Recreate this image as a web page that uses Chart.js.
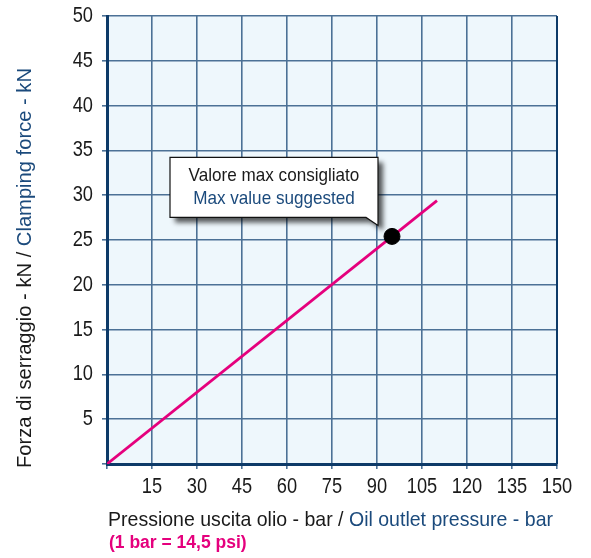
<!DOCTYPE html>
<html>
<head>
<meta charset="utf-8">
<script src="https://cdn.jsdelivr.net/npm/chart.js@4/dist/chart.umd.min.js"></script>
<style>
  html, body { margin: 0; padding: 0; background: #fff; }
  #wrap { width: 591px; height: 558px; position: relative; }
</style>
</head>
<body>
<div id="wrap"><canvas id="clampChart" width="591" height="558"></canvas></div>
<script>
// Dati
const pressureLine = [0, 110];      // bar
const forceLine = [0, 29.4];        // kN
const maxPressure = [95];
const maxForce = [25.4];
const xTicks = [0, 15, 30, 45, 60, 75, 90, 105, 120, 135, 150];
const yTicks = [0, 5, 10, 15, 20, 25, 30, 35, 40, 45, 50];

const FONT = "'Liberation Sans', Arial, sans-serif";
const navy = "#0d3a68";
const blueText = "#1b4a7c";
const gridColor = "#4c7196";
const magenta = "#e5007d";
const ink = "#1a1a1a";

// testo "stretto" (il font originale e' condensato)
function narrowText(ctx, text, x, y, sx, align) {
  ctx.save();
  ctx.translate(x, y);
  ctx.scale(sx, 1);
  ctx.textAlign = align || "left";
  ctx.fillText(text, 0, 0);
  ctx.restore();
}

// due pezzi di testo di colore diverso, stretti per stare in "width"
function twoTone(ctx, a, b, x, y, width) {
  const wa = ctx.measureText(a).width;
  const wb = ctx.measureText(b).width;
  const sx = width / (wa + wb);
  ctx.fillStyle = ink;
  narrowText(ctx, a, x, y, sx);
  ctx.fillStyle = blueText;
  narrowText(ctx, b, x + wa * sx, y, sx);
}

// Sfondo area grafico, etichette, titoli e fumetto
const plotBg = {
  id: "plotBg",
  beforeDraw(chart) {
    const { ctx, chartArea: a } = chart;
    ctx.save();
    ctx.fillStyle = "#eef7fc";
    ctx.fillRect(a.left, a.top, a.right - a.left, a.bottom - a.top);
    ctx.restore();
  },
  afterDraw(chart) {
    const { ctx, chartArea: a } = chart;
    const xs = chart.scales.x, ys = chart.scales.y;
    ctx.save();
    // bordo destro
    ctx.strokeStyle = navy;
    ctx.lineWidth = 2;
    ctx.beginPath();
    ctx.moveTo(a.right, a.top);
    ctx.lineTo(a.right, a.bottom);
    ctx.stroke();

    // etichette assi
    ctx.font = "22px " + FONT;
    ctx.fillStyle = ink;
    ctx.textBaseline = "middle";
    xTicks.forEach((v) => {
      if (v === 0) return;
      narrowText(ctx, String(v), xs.getPixelForValue(v), 487, 0.83, "center");
    });
    yTicks.forEach((v) => {
      if (v === 0) return;
      narrowText(ctx, String(v), 93, ys.getPixelForValue(v), 0.83, "right");
    });

    // titolo asse x
    ctx.font = "21px " + FONT;
    twoTone(ctx, "Pressione uscita olio - bar / ", "Oil outlet pressure - bar", 108, 520, 445);
    ctx.font = "bold 17.5px " + FONT;
    ctx.fillStyle = magenta;
    narrowText(ctx, "(1 bar = 14,5 psi)", 109, 543, 1.0);

    // titolo asse y
    ctx.translate(25, 468);
    ctx.rotate(-Math.PI / 2);
    ctx.font = "21px " + FONT;
    twoTone(ctx, "Forza di serraggio - kN / ", "Clamping force - kN", 0, 0, 400);
    ctx.restore();

    // fumetto "Valore max consigliato"
    const p = chart.getDatasetMeta(1).data[0];
    const px = p.x, py = p.y;
    const L = px - 222, T = py - 79, R = px - 14, B = py - 19;
    ctx.save();
    ctx.beginPath();
    ctx.moveTo(L, T);
    ctx.lineTo(R, T);
    ctx.lineTo(R, py - 11);
    ctx.lineTo(R - 12, B);
    ctx.lineTo(L, B);
    ctx.closePath();
    ctx.shadowColor = "rgba(0,0,0,0.65)";
    ctx.shadowBlur = 5;
    ctx.shadowOffsetX = 5;
    ctx.shadowOffsetY = 5;
    ctx.fillStyle = "#fff";
    ctx.fill();
    ctx.shadowColor = "transparent";
    ctx.strokeStyle = "#111";
    ctx.lineWidth = 1.2;
    ctx.stroke();
    ctx.textBaseline = "middle";
    ctx.font = "19px " + FONT;
    ctx.fillStyle = ink;
    narrowText(ctx, "Valore max consigliato", (L + R) / 2, T + 18, 0.9, "center");
    ctx.fillStyle = blueText;
    narrowText(ctx, "Max value suggested", (L + R) / 2, T + 41, 0.9, "center");
    ctx.restore();
  }
};

new Chart(document.getElementById("clampChart"), {
  type: "scatter",
  data: {
    datasets: [
      {
        data: pressureLine.map((x, i) => ({ x: x, y: forceLine[i] })),
        showLine: true,
        borderColor: magenta,
        borderWidth: 2.8,
        pointRadius: 0,
        order: 2,
      },
      {
        data: maxPressure.map((x, i) => ({ x: x, y: maxForce[i] })),
        pointRadius: 8,
        pointBackgroundColor: "#000",
        pointBorderColor: "#000",
        order: 1,
      },
    ],
  },
  options: {
    responsive: false,
    animation: false,
    layout: { padding: { left: 0, right: 34, top: 16, bottom: 0 } },
    plugins: { legend: { display: false }, tooltip: { enabled: false } },
    scales: {
      x: {
        type: "linear",
        min: 0,
        max: 150,
        afterFit: (s) => { s.height = 94; },
        afterBuildTicks: (s) => { s.ticks = xTicks.map((v) => ({ value: v })); },
        ticks: { color: "rgba(0,0,0,0)", maxRotation: 0 },
        grid: { color: gridColor, lineWidth: 1.6, tickLength: 5, tickColor: gridColor },
        border: { color: navy, width: 3 },
      },
      y: {
        type: "linear",
        min: 0,
        max: 50,
        afterFit: (s) => { s.width = 107; },
        afterBuildTicks: (s) => { s.ticks = yTicks.map((v) => ({ value: v })); },
        ticks: { color: "rgba(0,0,0,0)" },
        grid: { color: gridColor, lineWidth: 1.6, tickLength: 5, tickColor: gridColor },
        border: { color: navy, width: 3 },
      },
    },
  },
  plugins: [plotBg],
});
</script>
</body>
</html>
